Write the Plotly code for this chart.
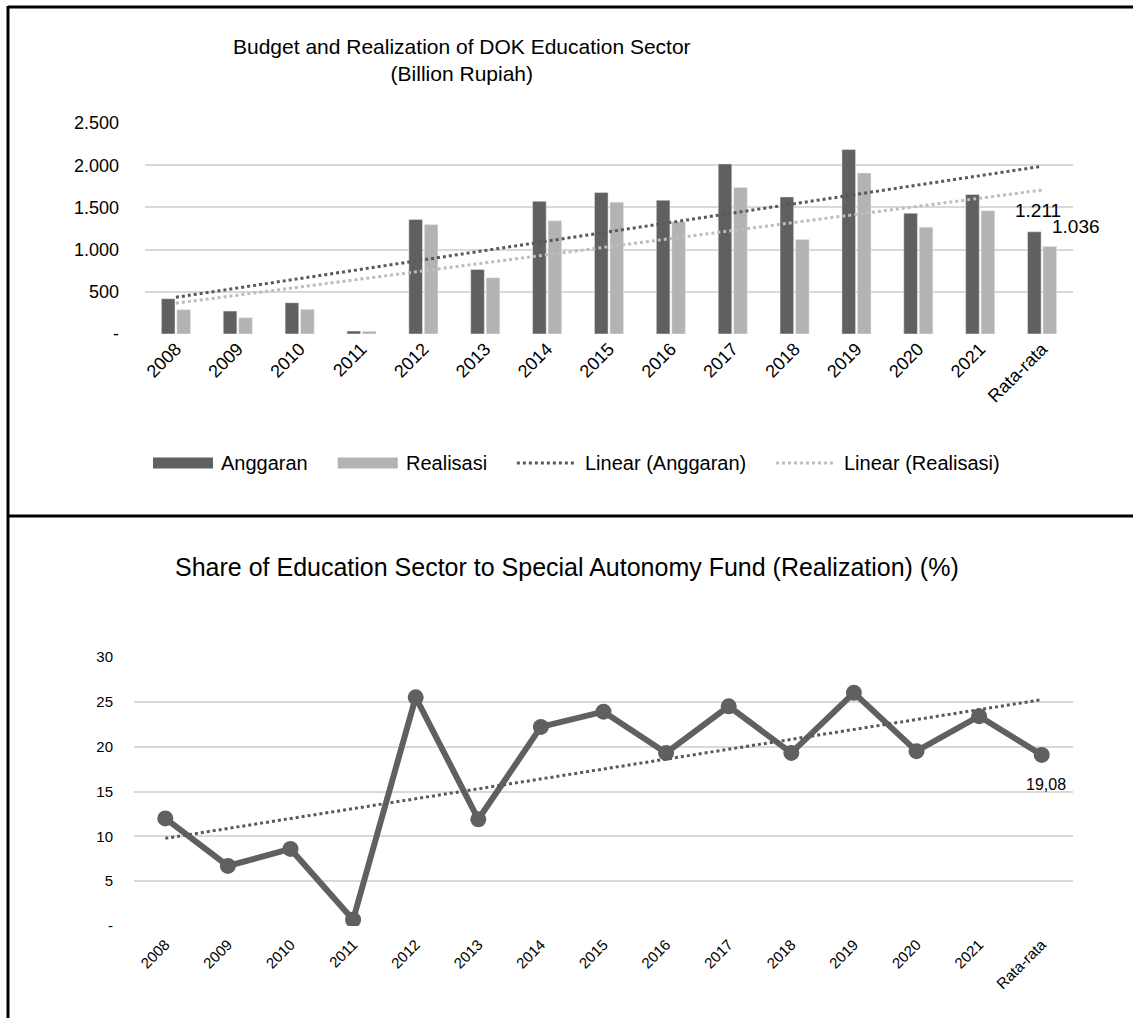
import numpy as np
import plotly.graph_objects as go

W, H = 1133, 1018

categories = ["2008", "2009", "2010", "2011", "2012", "2013", "2014", "2015",
              "2016", "2017", "2018", "2019", "2020", "2021", "Rata-rata"]
anggaran = [418, 272, 370, 35, 1357, 765, 1573, 1676, 1585, 2015, 1624, 2185, 1431, 1653, 1211]
realisasi = [288, 193, 292, 32, 1298, 666, 1341, 1562, 1329, 1735, 1120, 1908, 1266, 1459, 1036]
share = [12.0, 6.7, 8.6, 0.7, 25.5, 11.9, 22.2, 23.9, 19.3, 24.5, 19.3, 26.0, 19.5, 23.4, 19.08]

top_ticks = [0, 500, 1000, 1500, 2000, 2500]
top_ticklabels = ["-", "500", "1.000", "1.500", "2.000", "2.500"]
bot_ticks = [0, 5, 10, 15, 20, 25, 30]
bot_ticklabels = ["-", "5", "10", "15", "20", "25", "30"]

legend_names = ["Anggaran", "Realisasi", "Linear (Anggaran)", "Linear (Realisasi)"]

DARK = "#606060"
LIGHT = "#b3b3b3"
TREND_DARK = "#595959"
TREND_LIGHT = "#bdbdbd"
FONT = "Liberation Sans, Arial, sans-serif"


def trend(vals):
    x = np.arange(1, len(vals) + 1)
    m, b = np.polyfit(x, np.array(vals, dtype=float), 1)
    return list(m * x + b)


def px(x):
    return x / W


def py(y):
    return 1 - y / H


fig = go.Figure()

fig.add_trace(go.Bar(x=categories, y=anggaran, name=legend_names[0], marker_color=DARK,
                     xaxis="x", yaxis="y"))
fig.add_trace(go.Bar(x=categories, y=realisasi, name=legend_names[1], marker_color=LIGHT,
                     xaxis="x", yaxis="y"))
fig.add_trace(go.Scatter(x=categories, y=trend(anggaran), name=legend_names[2], mode="lines",
                         line=dict(color=TREND_DARK, width=3, dash="dot"), xaxis="x", yaxis="y"))
fig.add_trace(go.Scatter(x=categories, y=trend(realisasi), name=legend_names[3], mode="lines",
                         line=dict(color=TREND_LIGHT, width=3, dash="dot"), xaxis="x", yaxis="y"))

fig.add_trace(go.Scatter(x=categories, y=share, mode="lines+markers",
                         line=dict(color=DARK, width=6), marker=dict(size=16, color=DARK),
                         xaxis="x2", yaxis="y2"))
fig.add_trace(go.Scatter(x=categories, y=trend(share), mode="lines",
                         line=dict(color=TREND_DARK, width=3, dash="dot"),
                         xaxis="x2", yaxis="y2"))

grid = "#d9d9d9"

# manual legend (long swatches like the original)
LEG_Y = 463
LEG_FS = 20
text_w = [4.336, 4.056, 8.059, 7.779]  # Arial widths in em
shapes = []
annotations = []
x = 153
for i, name in enumerate(legend_names):
    if i < 2:
        shapes.append(dict(type="rect", xref="paper", yref="paper",
                           x0=px(x), x1=px(x + 60), y0=py(LEG_Y + 5.5), y1=py(LEG_Y - 5.5),
                           fillcolor=[DARK, LIGHT][i], line=dict(width=0)))
    else:
        shapes.append(dict(type="line", xref="paper", yref="paper",
                           x0=px(x), x1=px(x + 60), y0=py(LEG_Y), y1=py(LEG_Y),
                           line=dict(color=[TREND_DARK, TREND_LIGHT][i - 2], width=3, dash="dot")))
    annotations.append(dict(text=name, xref="paper", yref="paper", x=px(x + 66), y=py(LEG_Y),
                            xanchor="left", yanchor="middle", showarrow=False,
                            font=dict(size=LEG_FS)))
    x += 66 + text_w[i] * LEG_FS + 32

shapes += [
    dict(type="line", xref="paper", yref="paper", x0=px(8), x1=1, y0=py(7), y1=py(7),
         line=dict(color="black", width=3)),
    dict(type="line", xref="paper", yref="paper", x0=px(8), x1=px(8), y0=py(6), y1=0,
         line=dict(color="black", width=3)),
    dict(type="line", xref="paper", yref="paper", x0=px(8), x1=1, y0=py(516), y1=py(516),
         line=dict(color="black", width=3)),
]

annotations += [
    dict(text="Budget and Realization of DOK Education Sector<br>(Billion Rupiah)",
         xref="paper", yref="paper", x=px(462), y=py(60), showarrow=False,
         font=dict(size=21), xanchor="center", yanchor="middle"),
    dict(text="Share of Education Sector to Special Autonomy Fund (Realization) (%)",
         xref="paper", yref="paper", x=px(567), y=py(567), showarrow=False,
         font=dict(size=25), xanchor="center", yanchor="middle"),
    dict(text="1.211", x=categories[-1], y=anggaran[-1], xref="x", yref="y",
         showarrow=False, xshift=-4, yshift=21, font=dict(size=19)),
    dict(text="1.036", x=categories[-1], y=realisasi[-1], xref="x", yref="y",
         showarrow=False, xshift=34, yshift=20, font=dict(size=19)),
    dict(text="19,08", x=categories[-1], y=share[-1], xref="x2", yref="y2",
         showarrow=False, xshift=4, yshift=-30, font=dict(size=16)),
]

fig.update_layout(
    width=W, height=H,
    margin=dict(l=0, r=0, t=0, b=0),
    paper_bgcolor="white", plot_bgcolor="white",
    font=dict(family=FONT, color="#000000", size=17),
    barmode="group", bargap=0.5, bargroupgap=0.12,
    showlegend=False,
    xaxis=dict(domain=[px(145), px(1073)], anchor="y", type="category", range=[-0.5, 14.5],
               tickangle=-45, automargin=False, showgrid=False, showline=False, ticks="",
               tickfont=dict(size=18)),
    yaxis=dict(domain=[py(334), py(123)], anchor="x", range=[0, 2500], tickvals=top_ticks,
               ticktext=top_ticklabels, showgrid=True, gridcolor=grid, gridwidth=2,
               zeroline=False, automargin=False, ticklabelstandoff=25, tickfont=dict(size=18)),
    xaxis2=dict(domain=[px(134), px(1073)], anchor="y2", type="category", range=[-0.5, 14.5],
                tickangle=-45, automargin=False, showgrid=False, showline=False, ticks="",
                ticklabelstandoff=6, tickfont=dict(size=15)),
    yaxis2=dict(domain=[py(926), py(657)], anchor="x2", range=[0, 30], tickvals=bot_ticks,
                ticktext=bot_ticklabels, showgrid=True, gridcolor=grid, gridwidth=2,
                zeroline=False, automargin=False, ticklabelstandoff=20, tickfont=dict(size=15)),
    shapes=shapes,
    annotations=annotations,
)

fig.write_html("out.html")
